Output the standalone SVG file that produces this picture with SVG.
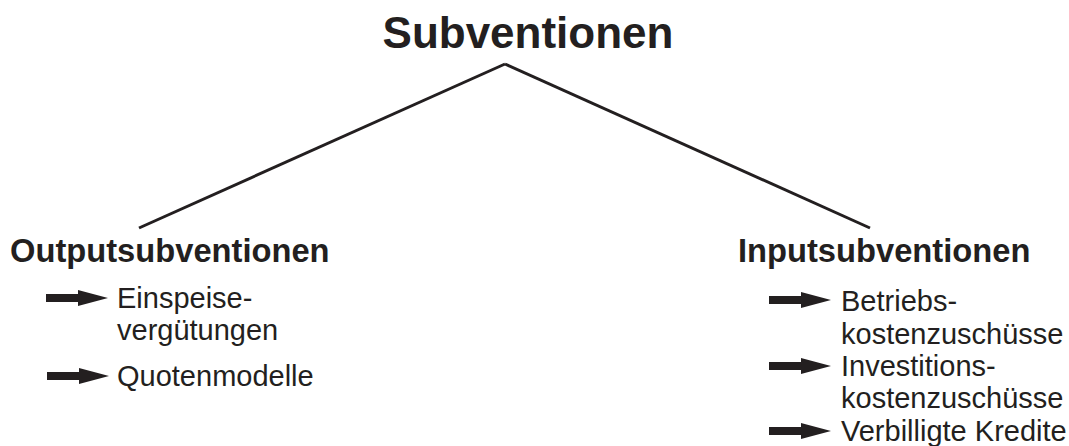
<svg xmlns="http://www.w3.org/2000/svg" xmlns:xlink="http://www.w3.org/1999/xlink" width="1069" height="446" viewBox="0 0 1069 446">
  <style>
    text { font-family: "Liberation Sans", Arial, sans-serif; fill: #231f20; }
    .title { font-size: 44px; font-weight: bold; }
    .head { font-size: 32.7px; font-weight: bold; }
    .item { font-size: 29px; }
    .edge { stroke: #231f20; stroke-width: 3; fill: none; stroke-linecap: butt; }
    .bullet { fill: #231f20; }
  </style>
  <defs>
    <!-- thick block arrow used as list bullet -->
    <path id="arrow" d="M0,-4 H32 V-8 L62,0 L32,8 V4 H0 Z"/>
  </defs>

  <rect width="1069" height="446" fill="#ffffff"/>

  <g id="connectors">
    <line class="edge" x1="505" y1="64" x2="139" y2="228"/>
    <line class="edge" x1="505" y1="64" x2="870" y2="228"/>
  </g>

  <g id="node-subventionen">
    <text class="title" x="528" y="48" text-anchor="middle">Subventionen</text>
  </g>

  <g id="node-outputsubventionen">
    <text class="head" x="10" y="262">Outputsubventionen</text>
    <use class="bullet" xlink:href="#arrow" x="46" y="298"/>
    <text class="item" x="117" y="308">Einspeise-</text>
    <text class="item" x="117" y="340">vergütungen</text>
    <use class="bullet" xlink:href="#arrow" x="47" y="376"/>
    <text class="item" x="117" y="386">Quotenmodelle</text>
  </g>

  <g id="node-inputsubventionen">
    <text class="head" x="738" y="262">Inputsubventionen</text>
    <use class="bullet" xlink:href="#arrow" x="769" y="300"/>
    <text class="item" x="841" y="311">Betriebs-</text>
    <text class="item" x="841" y="344">kostenzuschüsse</text>
    <use class="bullet" xlink:href="#arrow" x="769" y="366"/>
    <text class="item" x="841" y="376">Investitions-</text>
    <text class="item" x="841" y="408">kostenzuschüsse</text>
    <use class="bullet" xlink:href="#arrow" x="769" y="431"/>
    <text class="item" x="841" y="441">Verbilligte Kredite</text>
  </g>
</svg>
